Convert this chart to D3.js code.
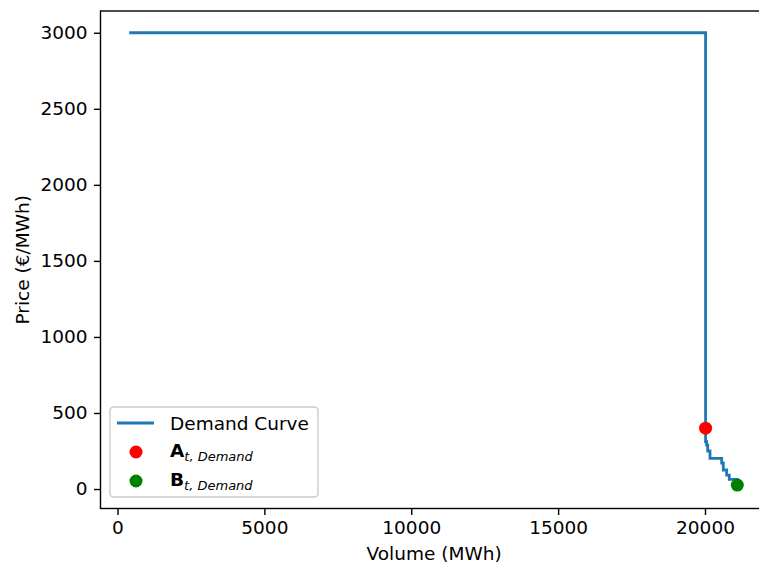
<!DOCTYPE html>
<html>
<head>
<meta charset="utf-8">
<script src="https://cdn.jsdelivr.net/npm/d3@7"></script>
<style>
  html, body { margin: 0; padding: 0; background: #fff; overflow: hidden; }
  svg { display: block; font-family: "DejaVu Sans", sans-serif; }
</style>
</head>
<body>
<svg id="chart" width="759" height="569"></svg>
<script>
// Demand curve (step-after): volume in MWh, price in €/MWh
const demandVolume = [400, 20020, 20058, 20092, 20170, 20568, 20623, 20738, 20827, 21100];
const demandPrice  = [3000, 311, 289, 250, 202, 171, 125, 92, 64, 26];

// Highlighted points on the curve
const pointA = { volume: 20020, price: 400 };
const pointB = { volume: 21100, price: 26 };

const xTicks = [0, 5000, 10000, 15000, 20000];
const yTicks = [0, 500, 1000, 1500, 2000, 2500, 3000];

const svg = d3.select("#chart");
// The axes box runs slightly past the right edge of the canvas
const plot = { left: 100.5, top: 11, right: 767.7, bottom: 508.5 };

const x = d3.scaleLinear().domain([-579, 22135]).range([plot.left, plot.right]);
const y = d3.scaleLinear().domain([-128, 3143]).range([plot.bottom, plot.top]);

const fontPx = 18.5;

// Axes
const xAxis = d3.axisBottom(x).tickValues(xTicks).tickFormat(d3.format("d")).tickSizeOuter(0).tickSize(6.5).tickPadding(6);
const yAxis = d3.axisLeft(y).tickValues(yTicks).tickFormat(d3.format("d")).tickSizeOuter(0).tickSize(6.5).tickPadding(6.5);

const gx = svg.append("g").attr("transform", `translate(0,${plot.bottom})`).call(xAxis);
const gy = svg.append("g").attr("transform", `translate(${plot.left},0)`).call(yAxis);
[gx, gy].forEach(g => {
  g.select(".domain").remove();
  g.selectAll(".tick line").attr("stroke", "#000").attr("stroke-width", 1.4);
  g.selectAll(".tick text").attr("fill", "#000").style("font-size", fontPx + "px").style("font-family", "DejaVu Sans");
});

// Demand curve
const line = d3.line()
  .x((d, i) => x(demandVolume[i]))
  .y(d => y(d))
  .curve(d3.curveStepAfter);

svg.append("path")
  .datum(demandPrice)
  .attr("d", line)
  .attr("fill", "none")
  .attr("stroke", "#1f77b4")
  .attr("stroke-width", 2.8)
  .attr("stroke-linejoin", "miter")
  .attr("stroke-linecap", "butt");

// Points A and B
svg.append("circle").attr("cx", x(pointA.volume)).attr("cy", y(pointA.price)).attr("r", 6.5).attr("fill", "#ff0000");
svg.append("circle").attr("cx", x(pointB.volume)).attr("cy", y(pointB.price)).attr("r", 6.5).attr("fill", "#008000");

// Frame
svg.append("rect")
  .attr("x", plot.left).attr("y", plot.top)
  .attr("width", plot.right - plot.left).attr("height", plot.bottom - plot.top)
  .attr("fill", "none").attr("stroke", "#000").attr("stroke-width", 1.4);

// Axis titles
svg.append("text")
  .attr("x", (plot.left + plot.right) / 2).attr("y", 560)
  .attr("text-anchor", "middle").style("font-size", fontPx + "px")
  .text("Volume (MWh)");

svg.append("text")
  .attr("transform", `translate(29,${(plot.top + plot.bottom) / 2}) rotate(-90)`)
  .attr("text-anchor", "middle").style("font-size", fontPx + "px")
  .text("Price (€/MWh)");

// Legend
const lg = svg.append("g");
lg.append("rect")
  .attr("x", 110).attr("y", 407).attr("width", 208).attr("height", 90)
  .attr("rx", 3.5).attr("fill", "#fff").attr("fill-opacity", 0.8)
  .attr("stroke", "#cccccc").attr("stroke-width", 1.4);

lg.append("line").attr("x1", 117).attr("x2", 154).attr("y1", 423).attr("y2", 423)
  .attr("stroke", "#1f77b4").attr("stroke-width", 2.8);
lg.append("text").attr("x", 170).attr("y", 430).style("font-size", fontPx + "px").text("Demand Curve");

const entries = [
  { letter: "A", color: "#ff0000", cy: 452 },
  { letter: "B", color: "#008000", cy: 481 }
];
entries.forEach(e => {
  lg.append("circle").attr("cx", 136).attr("cy", e.cy).attr("r", 6.5).attr("fill", e.color);
  const t = lg.append("text").attr("x", 170).attr("y", e.cy + 5).style("font-size", fontPx + "px");
  t.append("tspan").attr("font-weight", "bold").text(e.letter);
  t.append("tspan").attr("font-style", "italic").attr("dy", 4).style("font-size", "13px").text("t, Demand");
});
</script>
</body>
</html>
